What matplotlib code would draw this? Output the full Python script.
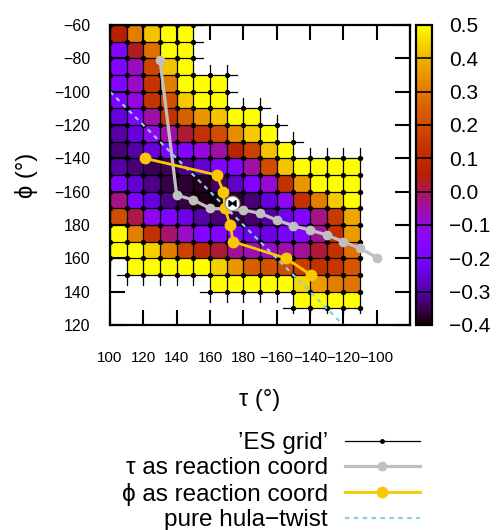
import numpy as np
import matplotlib.pyplot as plt
from matplotlib.colors import ListedColormap
from matplotlib.path import Path
from matplotlib.lines import Line2D

plt.rcParams['font.family'] = ['Liberation Sans', 'DejaVu Sans']

# cell edges of the scan (10 deg steps); phi is unwrapped (-240 == 120)
tau_edges = np.arange(100, 260, 10)
phi_edges = np.arange(-60, -240, -10)

nan = np.nan
# relative energy per cell, rows from phi=-60 downwards, cols from tau=100
energy = np.array([
    [0.05, 0.31, 0.42, 0.5, 0.5, nan, nan, nan, nan, nan, nan, nan, nan, nan, nan],
    [-0.175, 0.03, 0.28, 0.5, 0.5, nan, nan, nan, nan, nan, nan, nan, nan, nan, nan],
    [-0.17, -0.07, 0.18, 0.42, 0.5, nan, nan, nan, nan, nan, nan, nan, nan, nan, nan],
    [-0.17, -0.08, 0.13, 0.31, 0.5, 0.5, 0.5, nan, nan, nan, nan, nan, nan, nan, nan],
    [-0.18, -0.10, 0.13, 0.21, 0.43, 0.5, 0.5, nan, nan, nan, nan, nan, nan, nan, nan],
    [-0.25, -0.18, -0.05, 0.12, 0.25, 0.35, 0.42, 0.5, 0.5, nan, nan, nan, nan, nan, nan],
    [-0.30, -0.25, -0.12, -0.05, 0.02, 0.12, 0.20, 0.34, 0.43, 0.5, nan, nan, nan, nan, nan],
    [-0.33, -0.30, -0.25, -0.18, -0.17, -0.10, -0.05, 0.07, 0.17, 0.42, 0.5, nan, nan, nan, nan],
    [-0.30, -0.33, -0.35, -0.35, -0.32, -0.26, -0.18, -0.17, -0.05, 0.20, 0.42, 0.5, 0.5, 0.5, 0.5],
    [-0.18, -0.26, -0.32, -0.36, -0.37, -0.38, -0.34, -0.27, -0.18, -0.09, 0.12, 0.35, 0.5, 0.5, 0.5],
    [-0.03, -0.18, -0.25, -0.32, -0.36, -0.385, -0.39, -0.37, -0.33, -0.25, -0.12, 0.12, 0.31, 0.43, 0.5],
    [0.20, 0.01, -0.12, -0.18, -0.24, -0.30, -0.33, -0.36, -0.34, -0.30, -0.23, -0.17, -0.03, 0.15, 0.38],
    [0.5, 0.31, 0.12, -0.01, -0.08, -0.17, -0.17, -0.20, -0.24, -0.24, -0.20, -0.16, -0.04, 0.12, 0.36],
    [0.5, 0.5, 0.44, 0.31, 0.17, 0.08, 0.02, -0.04, -0.06, -0.08, -0.05, -0.04, 0.02, 0.12, 0.28],
    [nan, 0.5, 0.5, 0.5, 0.5, 0.5, 0.44, 0.35, 0.24, 0.21, 0.20, 0.15, 0.12, 0.14, 0.22],
    [nan, nan, nan, nan, nan, nan, 0.5, 0.5, 0.5, 0.5, 0.5, 0.45, 0.36, 0.31, 0.29],
    [nan, nan, nan, nan, nan, nan, nan, nan, nan, nan, nan, 0.5, 0.5, 0.5, 0.5],
])

# tau as reaction coordinate
tau_rc_tau = [130, 140, 150, 160, 170, 180, 190, 200, 210, 220, 230, 240, 250, 260]
tau_rc_phi = [-81, -162, -165, -170, -170.5, -171, -173, -177, -180.5, -183, -186, -190, -194, -199.5]
# phi as reaction coordinate
phi_rc_tau = [121, 164, 168, 169, 172, 174, 205.6, 220.6]
phi_rc_phi = [-140, -150, -160, -170, -180, -190, -200, -210]
# pure hula-twist
hula_tau = [100, 240]
hula_phi = [-100, -240]
# special point
mark_tau = [173]
mark_phi = [-166.5]

xtick_vals = np.arange(100, 281, 20)
xtick_labels = ['100', '120', '140', '160', '180', '\u2212160', '\u2212140', '\u2212120', '\u2212100', '']
ytick_vals = np.arange(-240, -59, 20)
ytick_labels = ['120', '140', '160', '180', '\u2212160', '\u2212140', '\u2212120', '\u2212100', '\u221280', '\u221260']
cb_vals = [-0.4, -0.3, -0.2, -0.1, 0.0, 0.1, 0.2, 0.3, 0.4, 0.5]
cb_labels = ['\u22120.4', '\u22120.3', '\u22120.2', '\u22120.1', '0.0', '0.1', '0.2', '0.3', '0.4', '0.5']

legend_labels = ['\u2019ES grid\u2019', '\u03c4 as reaction coord', '\u03d5 as reaction coord', 'pure hula\u2212twist']

# gnuplot default palette (rgbformulae 7,5,15)
x = np.linspace(0, 1, 256)
cmap = ListedColormap(np.column_stack([np.sqrt(x), x ** 3, np.clip(np.sin(2 * np.pi * x), 0, 1)]))

fig = plt.figure(figsize=(4.98, 5.30), dpi=100)
ax = fig.add_axes([110 / 498, 1 - 325 / 530, 300 / 498, 300 / 530])
cax = fig.add_axes([416 / 498, 1 - 325 / 530, 16 / 498, 300 / 530])

mesh = ax.pcolormesh(tau_edges, phi_edges, np.ma.masked_invalid(energy), cmap=cmap,
                     vmin=-0.4, vmax=0.5, zorder=1)

# ES grid: lines through the cell corners, with short overhangs
ok = ~np.isnan(energy)
stub = 6
for j, phi in enumerate(phi_edges):
    rows = [r for r in (j - 1, j) if 0 <= r < ok.shape[0]]
    cols = set()
    for r in rows:
        for c in np.where(ok[r])[0]:
            cols.update([c, c + 1])
    if not cols:
        continue
    pts = tau_edges[sorted(cols)]
    ax.plot([max(pts[0] - stub, 94), min(pts[-1] + stub, 251)], [phi, phi], color='k', lw=0.9, zorder=2)
    ax.plot(pts, [phi] * len(pts), 'o', color='k', ms=2.8, zorder=3)
for i, tau in enumerate(tau_edges):
    cols = [c for c in (i - 1, i) if 0 <= c < ok.shape[1]]
    rws = set()
    for c in cols:
        for r in np.where(ok[:, c])[0]:
            rws.update([r, r + 1])
    pts = phi_edges[sorted(rws)]
    ax.plot([tau, tau], [min(pts[0] + stub, -54), max(pts[-1] - stub, -232.5)], color='k', lw=0.9, zorder=2)

ax.plot(hula_tau, hula_phi, color='#87ceeb', lw=1.6, ls=(0, (2, 2)), zorder=4)
ax.plot(tau_rc_tau, tau_rc_phi, color='#c0c0c0', lw=2.3, marker='o', ms=6, zorder=5)
ax.plot(phi_rc_tau, phi_rc_phi, color='#f8c800', lw=2.0, marker='o', ms=7.5, zorder=6)
bowtie = Path([(-1, -0.8), (1, 0.8), (1, -0.8), (-1, 0.8), (-1, -0.8)],
              [Path.MOVETO, Path.LINETO, Path.LINETO, Path.LINETO, Path.CLOSEPOLY])
ax.plot(mark_tau, mark_phi, 'o', ms=10.5, mfc='white', mec='#909090', mew=0.8, zorder=7)
ax.plot(mark_tau, mark_phi, marker=bowtie, ms=5, color='k', ls='none', zorder=8)

ax.set_xlim(100, 280)
ax.set_ylim(-240, -60)
ax.set_xticks(xtick_vals)
ax.set_xticklabels(xtick_labels, fontsize=10.8)
ax.set_yticks(ytick_vals)
ax.set_yticklabels(ytick_labels, fontsize=11.5)
ax.tick_params(direction='in', length=11, width=1.5, top=True, right=True)
ax.tick_params(axis='x', pad=19)
ax.tick_params(axis='y', pad=14)
for s in ax.spines.values():
    s.set_linewidth(1.6)
    s.set_zorder(10)
ax.set_xlabel('\u03c4 (\u00b0)', fontsize=17, labelpad=17)
ax.set_ylabel('\u03d5 (\u00b0)', fontsize=17, labelpad=12)

cb = fig.colorbar(mesh, cax=cax)
cb.set_ticks(cb_vals)
cb.set_ticklabels(cb_labels, fontsize=15)
cax.tick_params(length=0, pad=12)
for v in cb_vals[1:-1]:
    cax.axhline(v, color='k', lw=1.2)
cb.outline.set_linewidth(1.6)

handles = [
    Line2D([], [], color='k', lw=0.9, marker='o', ms=2.5),
    Line2D([], [], color='#c0c0c0', lw=2.3, marker='o', ms=6),
    Line2D([], [], color='#f8c800', lw=2.0, marker='o', ms=7.5),
    Line2D([], [], color='#87ceeb', lw=1.6, ls=(0, (2, 2))),
]
fig.legend(handles, legend_labels, loc='upper right', bbox_to_anchor=(420 / 498, 1 - 432 / 530),
           frameon=False, markerfirst=False, handlelength=3.1, handletextpad=0.7,
           labelspacing=0.14, borderpad=0, borderaxespad=0, fontsize=17.5)

fig.savefig('out.png', dpi=100)
